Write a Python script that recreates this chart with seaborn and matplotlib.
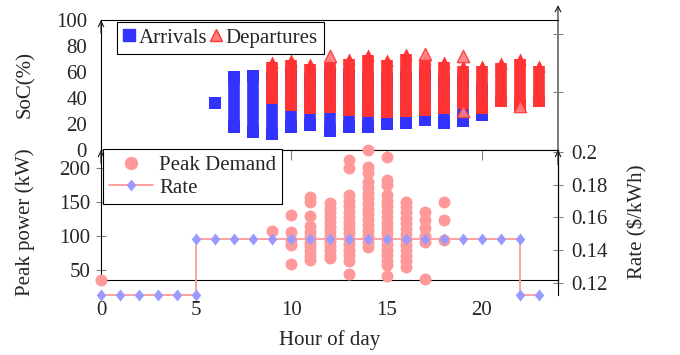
import matplotlib
matplotlib.use("Agg")
import matplotlib.pyplot as plt
from matplotlib.lines import Line2D
import pandas as pd
import seaborn as sns

# SoC (%) spread of arrivals / departures per hour of day
arr_hours = [6, 7, 8, 9, 10, 11, 12, 13, 14, 15, 16, 17, 18, 19, 20]
arr_soc_min = [36, 18, 14, 12, 18, 19, 15, 18, 18, 20, 21, 23, 21, 22, 27]
arr_soc_max = [36, 56, 57, 56, 60, 55, 59, 58, 55, 55, 56, 58, 52, 54, 47]

dep_hours = [9, 10, 11, 12, 13, 14, 15, 16, 17, 18, 19, 20, 21, 22, 23]
dep_soc_min = [40, 35, 32, 33, 31, 30, 29, 30, 31, 32, 36, 32, 38, 35, 38]
dep_soc_max = [68, 69, 66, 67, 70, 73, 69, 74, 70, 68, 65, 65, 67, 70, 65]

dep_extra_hours = [12, 17, 19, 19, 22]
dep_extra_soc = [72.5, 73.5, 72, 30, 34]

# peak power (kW) per session, by hour
peak_hours = ([0] + [9] + [10] * 5 + [11] * 11 + [12] * 13 + [13] * 16 + [14] * 16
              + [15] * 18 + [16] * 13 + [17] * 6 + [18] * 3)
peak_kw = ([35.3]
           + [107]
           + [131, 106, 94, 87, 59]
           + [158, 150, 130, 115, 106, 99, 92, 85, 78, 71, 65]
           + [149, 142, 135, 128, 121, 114, 107, 100, 93, 86, 79, 72, 67]
           + [212, 200, 160, 152, 144, 136, 128, 120, 112, 104, 96, 88, 80, 72, 64, 44]
           + [227, 202, 193, 180, 172, 164, 156, 148, 140, 132, 124, 116, 108, 100, 92, 84]
           + [217, 183, 176, 160, 152, 144, 136, 128, 120, 112, 104, 96, 88, 80, 72, 64, 57, 41]
           + [151, 143, 135, 127, 119, 111, 103, 95, 87, 79, 71, 63, 55]
           + [136, 124, 112, 100, 91, 37]
           + [151, 124, 94])

# TOU energy rate ($/kWh)
rate_hours = [0, 1, 2, 3, 4, 5, 5, 6, 7, 8, 9, 10, 11, 12, 13, 14, 15, 16, 17, 18, 19, 20, 21, 22, 22, 23]
rate_lo, rate_hi = 0.1125, 0.1466
rate_vals = [rate_lo] * 6 + [rate_hi] * 18 + [rate_lo] * 2

BLUE = "#3333ff"
RED = "#ff3333"
PINK = "#ff9999"
LAV = "#9999ff"
DIAMOND = [(0, 1), (0.8, 0), (0, -1), (-0.8, 0)]

sns.set_theme(style="ticks")
plt.rcParams["font.family"] = ["Liberation Serif", "DejaVu Serif"]
plt.rcParams["font.size"] = 15
plt.rcParams["axes.edgecolor"] = "black"
plt.rcParams["axes.linewidth"] = 0.8

W, H = 680, 355
fig = plt.figure(figsize=(W / 100, H / 100), dpi=100)
L, R = 101, 558


def box(top, bottom):
    return [L / W, 1 - bottom / H, (R - L) / W, (bottom - top) / H]


def arrow_tip(ax, x, y0, y1):
    ax.annotate("", xy=(x, y1), xytext=(x, y0), xycoords="axes fraction",
                arrowprops=dict(arrowstyle="->", lw=0.8, color="k", shrinkA=0, shrinkB=0,
                                mutation_scale=10))


ax_top = fig.add_axes(box(20, 150))
ax_bot = fig.add_axes(box(150, 280))
ax_rate = fig.add_axes(box(150, 295))
ax_rate.patch.set_alpha(0)

# ---------- top: SoC of arrivals / departures ----------
col_w = 8.4
ax_top.vlines(arr_hours, arr_soc_min, arr_soc_max, colors=BLUE, linewidth=col_w,
              capstyle="butt", zorder=2)
sns.scatterplot(x=arr_hours + arr_hours, y=arr_soc_min + arr_soc_max, marker="s",
                s=col_w ** 2, color=BLUE, linewidth=0, ax=ax_top, zorder=2, legend=False)
ax_top.vlines(dep_hours, dep_soc_min, dep_soc_max, colors=RED, linewidth=col_w,
              capstyle="butt", zorder=3)
sns.scatterplot(x=dep_hours, y=dep_soc_min, marker="s", s=col_w ** 2, color=RED,
                linewidth=0, ax=ax_top, zorder=3, legend=False)
sns.scatterplot(x=dep_hours, y=dep_soc_max, marker="^", s=col_w ** 2 * 1.1,
                color=RED, linewidth=0, ax=ax_top, zorder=3, legend=False)
sns.scatterplot(x=dep_extra_hours, y=dep_extra_soc, marker="^", s=col_w ** 2 * 1.1,
                color="#ff8080", edgecolor=RED, linewidth=1, alpha=0.9, ax=ax_top,
                zorder=4, legend=False)

ax_top.set_xlim(0, 24)
ax_top.set_ylim(0, 100)
ax_top.set_yticks([0, 20, 40, 60, 80, 100])
ax_top.set_xticks([])
ax_top.tick_params(axis="y", length=0, pad=10, labelsize=15)
ax_top.set_xlabel("")
ax_top.set_ylabel("")
ax_top.spines["right"].set_visible(False)
arrow_tip(ax_top, 0, 0.9, 1.0)
arrow_tip(ax_top, 1, 0, 1.115)
ax_top_r = ax_top.twinx()
ax_top_r.set_ylim(0, 100)
ax_top_r.set_yticks([44.6, 89.2])
ax_top_r.set_yticklabels([])
ax_top_r.tick_params(axis="y", direction="inout", length=7, width=0.8, color="gray")
for s in ax_top_r.spines.values():
    s.set_visible(False)

h_arr = Line2D([], [], ls="none", marker="s", ms=col_w, color=BLUE)
h_dep = Line2D([], [], ls="none", marker="^", ms=col_w, mfc="#ff8080", mec=RED, mew=1)
leg1 = ax_top.legend([h_arr, h_dep], ["Arrivals", "Departures"], loc="upper left",
                     bbox_to_anchor=(0.035, 0.985), ncol=2, frameon=True, fancybox=False,
                     edgecolor="black", framealpha=1, borderaxespad=0, handlelength=0.6,
                     handletextpad=0.15, columnspacing=0.1, borderpad=0.3, fontsize=15)
leg1.get_frame().set_linewidth(0.8)

# ---------- bottom: peak power + rate ----------
peak = pd.DataFrame({"hour": peak_hours, "kw": peak_kw})
sns.scatterplot(data=peak, x="hour", y="kw", color=PINK, s=74, linewidth=0,
                ax=ax_bot, legend=False, clip_on=False, zorder=3)
ax_bot.set_xlim(0, 24)
ax_bot.set_ylim(35.25, 227)
ax_bot.set_yticks([50, 100, 150, 200])
ax_bot.set_xticks([0, 5, 10, 15, 20])
ax_bot.tick_params(axis="y", direction="inout", length=7, width=0.8, color="gray",
                   pad=4, labelsize=15)
ax_bot.tick_params(axis="x", top=True, bottom=False, labeltop=False, labelbottom=False,
                   direction="in", length=7, width=0.8, color="gray")
ax_bot.set_xlabel("")
ax_bot.set_ylabel("")
arrow_tip(ax_bot, 0, 0.9, 1.0)

rate = pd.DataFrame({"hour": rate_hours, "rate": rate_vals})
sns.lineplot(data=rate, x="hour", y="rate", estimator=None, sort=False, color=PINK,
             lw=1.3, marker=DIAMOND, ms=8.6, mfc=LAV, mec=LAV, mew=0, ax=ax_rate,
             clip_on=False, zorder=4)
ax_rate.set_xlim(0, 24)
ax_rate.set_ylim(0.11245, 0.2014)
ax_rate.set_yticks([0.12, 0.14, 0.16, 0.18, 0.2])
ax_rate.set_yticklabels(["0.12", "0.14", "0.16", "0.18", "0.2"])
ax_rate.yaxis.tick_right()
ax_rate.tick_params(axis="y", direction="inout", length=7, width=0.8, color="gray",
                    pad=6, labelsize=15)
ax_rate.set_xticks([0, 5, 10, 15, 20])
ax_rate.tick_params(axis="x", length=0, pad=4, labelsize=15)
for side in ["left", "top", "bottom"]:
    ax_rate.spines[side].set_visible(False)
ax_rate.set_xlabel("")
ax_rate.set_ylabel("")
arrow_tip(ax_rate, 1, 0.9, 1.0)

h_peak = Line2D([], [], ls="none", marker="o", ms=8.6, color=PINK)
h_rate = Line2D([], [], color=PINK, lw=1.3, marker=DIAMOND, ms=8.6, mfc=LAV, mec=LAV, mew=0)
leg2 = ax_rate.legend([h_peak, h_rate], ["Peak Demand", "Rate"], loc="upper left",
                      bbox_to_anchor=(0.004, 1.007), frameon=True, fancybox=False,
                      edgecolor="black", framealpha=1, borderaxespad=0, handlelength=2.1,
                      handletextpad=0.3, labelspacing=0.15, borderpad=0.3, fontsize=15)
leg2.get_frame().set_linewidth(0.8)

# axis titles
fig.text(25 / W, 1 - 85 / H, "SoC(%)", rotation=90, ha="center", va="center", fontsize=15)
fig.text(25 / W, 1 - 222 / H, "Peak power (kW)", rotation=90, ha="center", va="center",
         fontsize=15)
fig.text(637 / W, 1 - 222 / H, r"Rate (\$/kWh)", rotation=90, ha="center", va="center",
         fontsize=15)
fig.text(330 / W, 1 - 340 / H, "Hour of day", ha="center", va="center", fontsize=15)

fig.savefig("out.png", dpi=100)
